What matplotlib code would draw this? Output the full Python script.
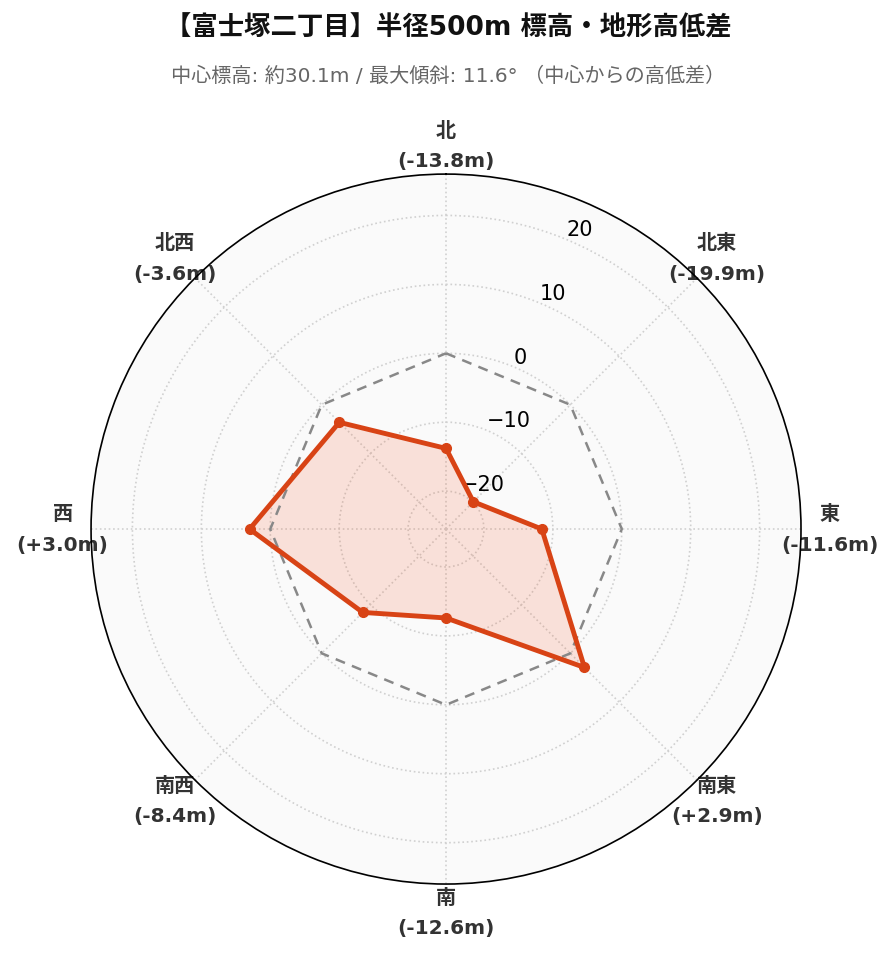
import numpy as np
import matplotlib
matplotlib.use("Agg")
import matplotlib.pyplot as plt

plt.rcParams['font.family'] = ['DejaVu Sans', 'Noto Sans CJK JP']

directions = ["北", "北東", "東", "南東", "南", "南西", "西", "北西"]
values = [-13.8, -19.9, -11.6, 2.9, -12.6, -8.4, 3.0, -3.6]
rticks = [-20, -10, 0, 10, 20]
r_range = (-25.5, 26)
title = "【富士塚二丁目】半径500m 標高・地形高低差"
subtitle = "中心標高: 約30.1m / 最大傾斜: 11.6° （中心からの高低差）"

fig = plt.figure(figsize=(8.96, 9.62), dpi=100)
ax = fig.add_axes([0.1016, 0.080, 0.7924, 0.738], projection='polar')
ax.set_theta_zero_location('N')
ax.set_theta_direction(-1)
ax.set_facecolor('#fafafa')

n = len(directions)
theta = np.linspace(0, 2 * np.pi, n, endpoint=False)
th_c = np.append(theta, theta[0])
v_c = np.append(values, values[0])

ax.set_ylim(*r_range)
ax.set_yticks(rticks)
ax.set_yticklabels([f"{t}".replace('-', '\u2212') for t in rticks], fontsize=15, color='black')
ax.set_rlabel_position(22.5)

# zero reference
ax.plot(th_c, np.zeros_like(th_c), linestyle=(0, (4, 3)), color='#888888', lw=1.8, zorder=3)

ax.fill(th_c, v_c, color='#f4511e', alpha=0.15, zorder=2)
ax.plot(th_c, v_c, color='#d84315', lw=3.5, zorder=4)
ax.plot(theta, values, 'o', color='#d84315', ms=7, zorder=5)

labels = [f"{d}\n({v:+.1f}m)" for d, v in zip(directions, values)]
ax.set_xticks(theta)
ax.set_xticklabels(labels, fontsize=14.5, fontweight='bold', color='#333333', linespacing=1.75)
ax.tick_params(axis='x', pad=10)

ax.grid(True, color='#d0d0d0', linestyle=':', lw=1.2)
ax.spines['polar'].set_color('black')
ax.spines['polar'].set_linewidth(1.2)
for lab in ax.get_xticklabels():
    lab.set_zorder(10)

fig.text(0.5, 1 - 28 / 962, title, ha='center', va='center', fontsize=19, fontweight='bold', color='#111111')
fig.text(0.5, 1 - 76 / 962, subtitle, ha='center', va='center', fontsize=14.5, color='#666666')

fig.savefig('out.png', dpi=100, facecolor='white')
